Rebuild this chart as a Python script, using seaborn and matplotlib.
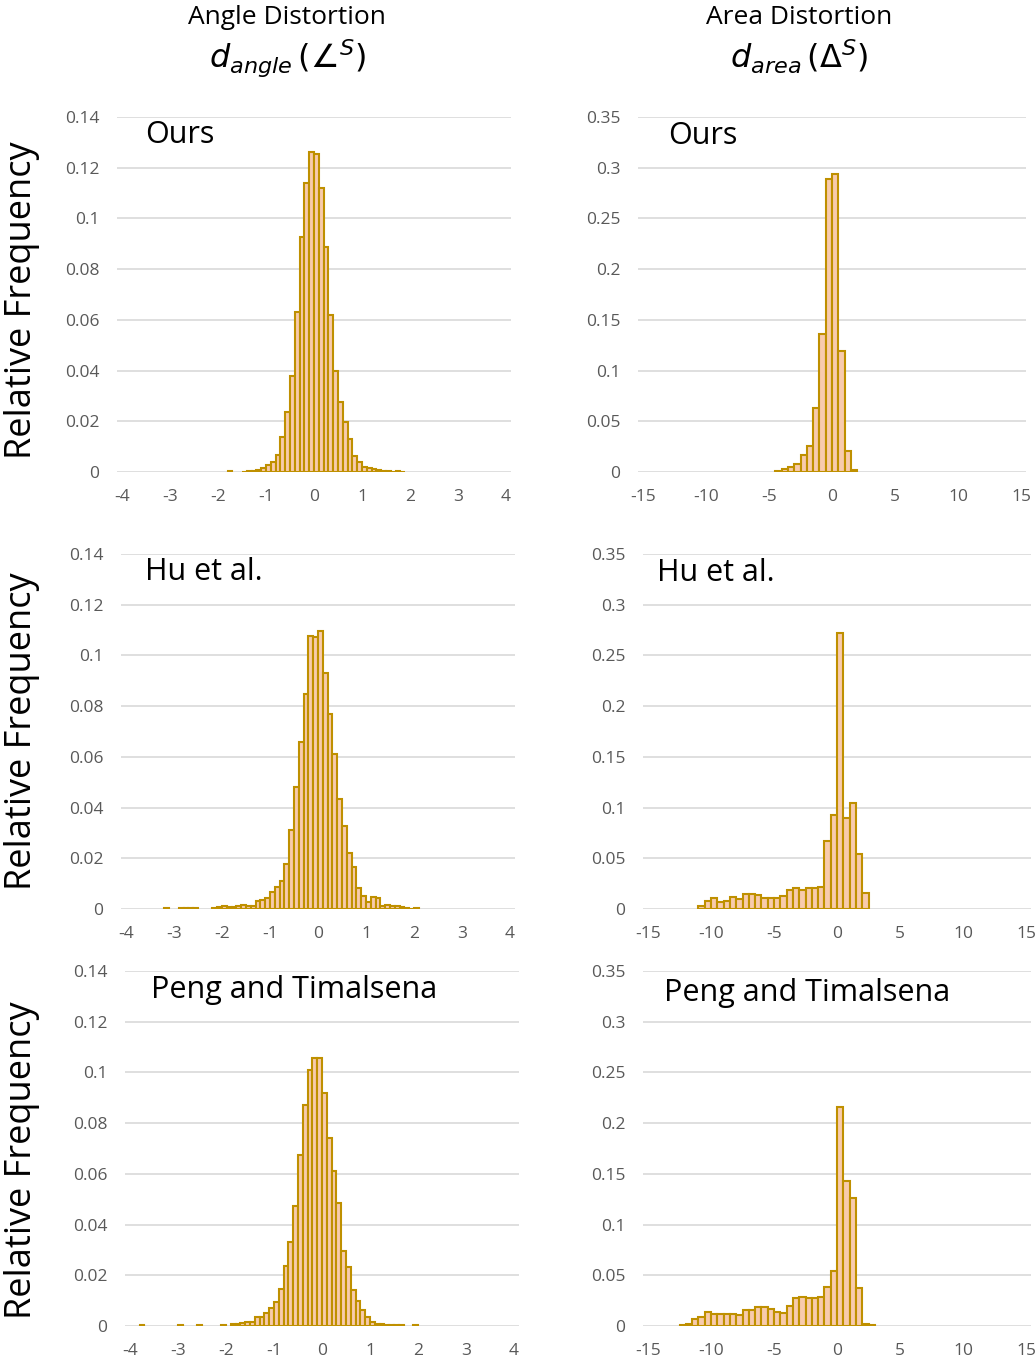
import matplotlib
matplotlib.use("Agg")
import matplotlib.pyplot as plt
import numpy as np
import pandas as pd
import seaborn as sns
from matplotlib.ticker import FuncFormatter, MultipleLocator

# ---- data (relative frequency per bin) ----
ANGLE_BIN = 0.1
AREA_BIN = 0.5

angle_ours_start = -1.8
angle_ours = [0.0002, 0, 0, 0.0001, 0.0002, 0.0004, 0.0008, 0.0015, 0.0028, 0.0038,
              0.0067, 0.0139, 0.0238, 0.038, 0.0632, 0.0928, 0.1139, 0.1263, 0.1255, 0.1119,
              0.0889, 0.0619, 0.040, 0.0277, 0.0196, 0.013, 0.0064, 0.0041, 0.0021, 0.0015,
              0.001, 0.0006, 0.0003, 0.0002, 0.0001, 0.0002, 0.0001]

area_ours_start = -4.5
area_ours = [0.0005, 0.0027, 0.0053, 0.0079, 0.0168, 0.0256, 0.063, 0.136, 0.289, 0.294,
             0.1196, 0.021, 0.002]

angle_hu_start = -3.3
angle_hu = [0, 0.0002, 0, 0, 0.0002, 0.0002, 0.0002, 0.0002, 0, 0,
            0, 0.0002, 0.0007, 0.0011, 0.0008, 0.0008, 0.0013, 0.0015, 0.0013, 0.0013,
            0.003, 0.0036, 0.0042, 0.0068, 0.0088, 0.011, 0.0176, 0.0312, 0.0482, 0.066,
            0.0848, 0.1077, 0.1071, 0.1098, 0.093, 0.0768, 0.061, 0.0433, 0.0329, 0.022,
            0.0167, 0.0084, 0.0053, 0.0029, 0.0049, 0.0045, 0.0013, 0.0015, 0.0013, 0.0012,
            0.0008, 0.0005, 0.0001, 0.0002]

area_hu_start = -11.0
area_hu = [0.003, 0.0079, 0.011, 0.0072, 0.0079, 0.0122, 0.0095, 0.0145, 0.0145, 0.0135,
           0.011, 0.0105, 0.0105, 0.013, 0.0187, 0.021, 0.0187, 0.021, 0.021, 0.022,
           0.067, 0.0927, 0.2725, 0.0894, 0.1048, 0.054, 0.0155]

angle_peng_start = -3.8
angle_peng = [0.0002, 0, 0, 0, 0, 0, 0, 0, 0.0002, 0,
              0, 0, 0.0002, 0, 0, 0, 0, 0.0003, 0, 0.0007,
              0.0007, 0.0011, 0.0015, 0.0015, 0.0037, 0.0037, 0.005, 0.007, 0.0093, 0.0145,
              0.0238, 0.033, 0.0474, 0.0674, 0.0872, 0.101, 0.1056, 0.1056, 0.0918, 0.074,
              0.0613, 0.0486, 0.0296, 0.0231, 0.0142, 0.01, 0.0063, 0.0037, 0.0015, 0.0007,
              0.0007, 0.0004, 0.0004, 0.0004, 0.0002, 0, 0, 0.0003]

area_peng_start = -12.5
area_peng = [0.0007, 0.002, 0.0069, 0.0085, 0.0141, 0.0118, 0.0118, 0.0118, 0.0118, 0.0108,
             0.0158, 0.0158, 0.0187, 0.0187, 0.0164, 0.0141, 0.0125, 0.0197, 0.0273, 0.0286,
             0.0273, 0.0279, 0.0289, 0.0388, 0.0545, 0.2163, 0.1433, 0.1259, 0.0371, 0.002,
             0.0005]

row_labels = ["Ours", "Hu et al.", "Peng and Timalsena"]
col_titles = ["Angle Distortion", "Area Distortion"]
col_math = [r"$d_{angle}\,(\angle^{S})$", r"$d_{area}\,(\Delta^{S})$"]

# ---- style ----
FILL = "#F8CBAD"
EDGE = "#BF9000"
GRID = "#D9D9D9"
TICK = "#595959"

sns.set_theme(style="white")
plt.rcParams["font.family"] = ["Open Sans", "DejaVu Sans"]
plt.rcParams["axes.unicode_minus"] = False
plt.rcParams["mathtext.fontset"] = "dejavusans"

W, H = 1035, 1363
fig = plt.figure(figsize=(W / 100, H / 100), dpi=100)


def px_rect(x0, x1, y0, y1, margin=0.012):
    """x0/x1: pixel of x-limits, y0: pixel of zero line, y1: pixel of top value."""
    pad = (x1 - x0) * margin
    return [(x0 - pad) / W, 1 - y0 / H, (x1 - x0 + 2 * pad) / W, (y0 - y1) / H]


def draw_hist(ax, start, binw, values, xlim, ymax, ystep):
    edges = start + binw * np.arange(len(values) + 1)
    df = pd.DataFrame({"x": edges[:-1] + binw / 2, "w": values})
    sns.histplot(data=df, x="x", weights="w", bins=list(edges), stat="count",
                 color=FILL, edgecolor=EDGE, linewidth=1.5, alpha=1, ax=ax, zorder=3)
    for p in ax.patches:
        if p.get_height() <= 0:
            p.set_visible(False)
    span = xlim[1] - xlim[0]
    ax.set_xlim(xlim[0] - 0.012 * span, xlim[1] + 0.012 * span)
    ax.set_ylim(0, ymax)
    ax.set_xticks(np.arange(xlim[0], xlim[1] + 1e-9, 1 if span < 10 else 5))
    ax.yaxis.set_major_locator(MultipleLocator(ystep))
    fmt = FuncFormatter(lambda v, _: f"{v:g}" if abs(v) > 1e-9 else "0")
    ax.xaxis.set_major_formatter(fmt)
    ax.yaxis.set_major_formatter(fmt)
    ax.grid(axis="y", color=GRID, linewidth=1.2, zorder=0)
    ax.grid(axis="x", visible=False)
    ax.set_axisbelow(True)
    for s in ax.spines.values():
        s.set_visible(False)
    ax.tick_params(axis="both", length=0, labelsize=12.5, labelcolor=TICK)
    ax.tick_params(axis="x", pad=12)
    ax.tick_params(axis="y", pad=13)
    ax.set_xlabel("")
    ax.set_ylabel("")


panels = [
    # (rect pixels, start, binw, values, xlim, ymax, ystep, label pos)
    ((122, 506, 472, 117), angle_ours_start, ANGLE_BIN, angle_ours, (-4, 4), 0.14, 0.02, (145, 135)),
    ((643, 1021, 472, 117), area_ours_start, AREA_BIN, area_ours, (-15, 15), 0.35, 0.05, (668, 136)),
    ((126, 510, 909, 554), angle_hu_start, ANGLE_BIN, angle_hu, (-4, 4), 0.14, 0.02, (145, 572)),
    ((648, 1026, 909, 554), area_hu_start, AREA_BIN, area_hu, (-15, 15), 0.35, 0.05, (657, 573)),
    ((130, 514, 1326, 971), angle_peng_start, ANGLE_BIN, angle_peng, (-4, 4), 0.14, 0.02, (151, 990)),
    ((648, 1026, 1326, 971), area_peng_start, AREA_BIN, area_peng, (-15, 15), 0.35, 0.05, (664, 993)),
]

for i, (r, start, binw, vals, xlim, ymax, ystep, lab) in enumerate(panels):
    ax = fig.add_axes(px_rect(*r))
    draw_hist(ax, start, binw, vals, xlim, ymax, ystep)
    fig.text(lab[0] / W, 1 - lab[1] / H, row_labels[i // 2], fontsize=22,
             ha="left", va="center", color="black")

# column headers
for cx, t, m in zip([287, 799], col_titles, col_math):
    fig.text(cx / W, 1 - 18 / H, t, fontsize=19, ha="center", va="center", color="black")
    fig.text(cx / W, 1 - 58 / H, m, fontsize=23, ha="center", va="center", color="black")

# row y-labels
for cy in [300, 731, 1160]:
    fig.text(22 / W, 1 - cy / H, "Relative Frequency", fontsize=26, rotation=90,
             ha="center", va="center", color="black")

fig.savefig("out.png", dpi=100)
